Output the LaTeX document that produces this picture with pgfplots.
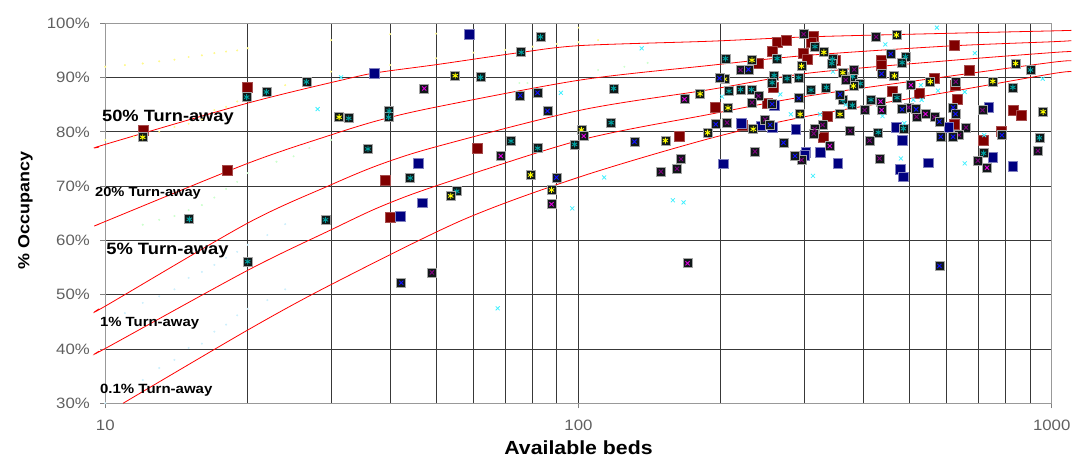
\documentclass[border=0pt]{standalone}
\usepackage{fontspec}
\setmainfont[FakeStretch=1.12]{Liberation Sans}
\usepackage{pgfplots}
\pgfplotsset{compat=1.18}
\usepackage{pgfplotstable}

\definecolor{dred}{HTML}{800000}
\definecolor{navyc}{HTML}{000080}
\definecolor{tealc}{HTML}{00A0A0}
\definecolor{yelc}{HTML}{FFFF00}
\definecolor{magc}{HTML}{E000E0}
\definecolor{dpurc}{HTML}{800080}
\definecolor{bluec}{HTML}{1010FF}
\definecolor{cyanc}{HTML}{40F0FF}
\definecolor{boxc}{HTML}{101818}
\definecolor{tickc}{HTML}{606060}
\definecolor{gridc}{HTML}{383838}

\pgfplotstableread{
x y
12.03 80.35
20 88.2
18.06 72.85
61.1 77.0
39.0 71.0
40.0 64.27
163 79.25
314 97.7
262.8 96.6
275 96.8
310 96.6
256.6 94.9
621 95.9
299 94.5
239.5 92.6
304 93.4
349 93.2
437 93.2
437 92.3
670 91.3
258 88.2
566 89.9
624 88.5
459.6 87.4
526 87.2
631 86.06
195 84.5
250 85.27
831 84.0
863 83.0
336 82.8
222 81.27
328.6 79.1
621 81.4
782 80.2
718 78.5
}\tDR

\pgfplotstableread{
x y
58.7 98.0
37.0 90.8
45.9 74.2
46.7 66.9
42.0 64.5
259 84.9
221 81.6
256.5 80.8
243 81.1
288 80.5
469 80.8
483 78.4
606 80.85
737 84.5
751 75.3
828 73.7
548 74.3
479 73.1
486 71.75
353 74.2
324 76.24
302 76.2
301 75.7
202 74.1
}\tNV

\pgfplotstableread{
x y
19.9 86.4
21.9 87.35
26.6 89.2
32.7 82.5
15.05 63.9
29.2 63.8
20 56.1
83.1 97.5
75.7 94.65
62.1 90.05
118.6 88.0
39.8 83.85
39.7 82.7
117.2 81.7
98.1 77.7
35.9 76.85
72.0 78.3
82.0 76.98
44.1 71.5
55.3 69.06
316 95.7
204.5 93.5
262.8 93.5
344 93.4
343 92.6
491 93.85
483 92.75
902 91.4
259 90.4
256.5 89.06
275.9 89.8
292 90.0
379.5 90.2
394 88.9
828 88.2
208 87.5
220 87.8
232 87.8
310 87.7
334 88.2
362 85.9
415 85.9
471 86.3
379 84.9
430 79.9
486 80.6
942 78.9
718 76.06
}\tTL

\pgfplotstableread{
x y
12 79.0
31.2 82.7
54.9 90.35
180.7 87.0
101.4 80.35
187.5 79.85
152.6 78.4
79.2 72.06
53.7 68.2
87.7 69.3
469.6 97.85
330 94.65
232.6 93.2
296 92.1
839 92.6
203.5 89.7
362 90.9
381 88.45
465 90.3
554 89.25
751 89.3
207 84.4
294 83.24
357 83.24
959 83.7
234 80.5
}\tYL

\pgfplotstableread{
x y
47.2 88.0
167.5 86.0
102.6 79.25
68.5 75.56
87.7 66.67
170 55.8
504 88.6
434.6 85.6
437 84.0
541 83.3
339.7 77.4
730 73.4
}\tMG

\pgfplotstableread{
x y
49.0 54.1
164.7 75.0
149.3 72.67
161.5 73.2
299 98.0
425.6 97.5
220 91.4
382.7 91.5
367 89.56
627 89.25
240 86.6
232.6 85.4
402.5 84.0
498.6 84.5
518 82.8
565 82.7
206 81.7
248 82.3
328 81.27
315.6 80.5
314 79.7
375 80.2
412 78.4
659 80.8
637 79.4
935 76.5
698 74.7
432.6 75.1
296 74.8
236 76.4
714 84.0
}\tDP

\pgfplotstableread{
x y
75.3 86.7
81.9 87.2
86.0 83.85
131.3 78.2
89.8 71.6
42.2 52.2
579 55.3
457 94.35
228.6 91.5
198.6 89.9
437 90.7
292 86.2
357 86.9
256.6 85.1
483 84.16
517 84.16
579 81.9
619 84.5
626 83.3
195 81.4
254 81.27
583 79.1
619 79.1
785 79.4
286.8 75.56
271 78.0
}\tBX

\pgfplotstableread{
x y
28.1 84.2
31.5 90.05
91.8 87.2
113.3 71.6
97.0 65.9
158.3 67.4
166.7 67.0
136 95.4
67.5 47.5
572 99.2
445 96.1
688 94.5
529 88.6
957 89.8
201 86.5
267 86.9
575 87.6
655 87.35
510 85.9
531 85.9
281 83.24
324 83.24
655 74.2
480 75.1
313 71.9
345 91.1
367 85.0
439 82.9
488 81.6
720 79.4
}\tCX

\begin{document}
\begin{tikzpicture}
\begin{axis}[
  name=ax,
  scale only axis,
  width=946.4pt, height=380pt,
  xmode=log, log basis x=10,
  xmin=10, xmax=1000, ymin=30, ymax=100,
  clip=false,
  xtick={10,100,1000},
  xticklabels={10,100,1000},
  minor xtick={20,30,40,50,60,70,80,90,200,300,400,500,600,700,800,900},
  ytick={30,40,50,60,70,80,90,100},
  yticklabel={\pgfmathprintnumber{\tick}\%},
  /pgf/number format/assume math mode=true,
  xmajorgrids, xminorgrids, ymajorgrids,
  major grid style={gridc, line width=0.9pt},
  minor grid style={gridc, line width=0.9pt},
  minor tick length=0pt,
  major tick length=5pt,
  tick align=outside,
  tick style={gray, line width=0.8pt},
  xtick pos=bottom, ytick pos=left,
  axis line style={gray!80, line width=0.9pt},
  ticklabel style={font=\fontsize{15}{16}\selectfont, text=tickc},
  yticklabel style={xshift=-7pt},
  xticklabel style={yshift=-8pt},
  xlabel={Available beds},
  ylabel={\% Occupancy},
  xlabel style={font=\fontsize{19}{20}\selectfont\bfseries, at={(axis description cs:0.5,-0.118)}, anchor=center},
  ylabel style={font=\fontsize{16}{17}\selectfont\bfseries, at={(axis description cs:-0.0845,0.507)}, anchor=center},
]
% faint dotted series
\addplot[only marks, mark=*, mark size=0.8pt, color=yellow!45] coordinates {(10,92.0)(11,92.3)(12,92.6)(13,93.0)(14,93.3)(15,93.8)(16,94.1)(17,94.5)(18,94.8)(19,95.0)(20,95.4)(30,96.9)(40,98.0)(50,98.1)(100,99.2)};
\addplot[only marks, mark=*, mark size=0.8pt, color=yellow!45] coordinates {(10,78.5)(11.5,79.1)(13,80.0)(14,80.9)(15,81.5)(16,82.3)(17,84.0)(18,84.6)(19,85.6)(20,87.0)(24,88.6)(30,91.1)(40,92.3)(50,93.55)(60,94.6)(70,95.1)(80,95.7)(90,96.2)(100,96.5)(110,96.9)};
\addplot[only marks, mark=*, mark size=0.8pt, color=green!20] coordinates {(12,62.9)(13,63.8)(14,64.5)(15,65.6)(16,66.5)(17,67.9)(18,69.5)(19,70.8)(20,72.4)(23,74.5)(25,75.5)(27,77.0)(30,78.5)(75,89.0)(78,89.0)(110,91.4)(125,92.0)(140,92.7)};
\addplot[only marks, mark=*, mark size=0.8pt, color=cyan!20] coordinates {(10,30)(12,34.3)(13,36.5)(14,38.0)(15,40.2)(16,41.0)(17,43.2)(18,44.5)(19,46.2)(20,47.4)(22,49.0)(24,51.0)};
\addplot[only marks, mark=*, mark size=0.8pt, color=cyan!20] coordinates {(11,46.6)(12,48.5)(13,49.7)(14,51.0)(15,53.1)(16,54.2)(17,55.5)(18,56.8)(19,57.9)(20,59.2)(22,61.0)(24,63.0)};
% turn-away curves
\addplot[red, line width=0.8pt, smooth] coordinates {(9.7,77.2)(10,77.7)(20,85.3)(32.9,89.9)(38.1,91.0)(50.2,92.4)(75,94.6)(101,95.9)(189.7,96.7)(305,97.5)(601,98.15)(1000,98.6)(1100,98.7)};
\addplot[red, line width=0.8pt, smooth] coordinates {(9.7,63.0)(10,63.5)(20,74.2)(29.9,79.4)(38.1,82.2)(50.2,84.6)(101,89.56)(189.7,92.25)(305,94.1)(601,95.8)(1000,96.6)(1100,96.8)};
\addplot[red, line width=0.8pt, smooth] coordinates {(9.7,47.4)(10,47.9)(20,63.2)(29.9,70.2)(38.1,74.0)(50.2,77.3)(101,84.0)(189.7,87.8)(305,90.8)(601,93.1)(1000,94.6)(1100,94.8)};
\addplot[red, line width=0.8pt, smooth] coordinates {(9.7,39.6)(10,40.1)(20,54.5)(29.9,61.9)(38.1,66.2)(50.2,70.1)(101,78.5)(189.7,83.25)(305,86.6)(601,90.2)(1000,92.8)(1100,93.1)};
\addplot[red, line width=0.8pt, smooth] coordinates {(10.9,30)(20,43.5)(29.9,51.8)(57,63.8)(101,71.75)(189.7,78.8)(305,82.9)(601,87.3)(1000,90.7)(1100,91.1)};
% data series
\addplot[only marks, mark=square*, mark size=5pt, mark options={fill=dred, draw=dred!70!white, line width=0.5pt}] table {\tDR};
\addplot[only marks, mark=square*, mark size=4.8pt, mark options={fill=navyc, draw=navyc!50!white, line width=0.6pt}] table {\tNV};
\addplot[only marks, mark=square*, mark size=4.5pt, mark options={fill=boxc, draw=gray!70, line width=0.7pt}] table {\tTL};
\addplot[only marks, mark=asterisk, mark size=3pt, mark options={draw=tealc, line width=0.9pt}] table {\tTL};
\addplot[only marks, mark=square*, mark size=4.5pt, mark options={fill=boxc, draw=gray!70, line width=0.7pt}] table {\tYL};
\addplot[only marks, mark=asterisk, mark size=3pt, mark options={draw=yelc, line width=0.9pt}] table {\tYL};
\addplot[only marks, mark=square*, mark size=4.5pt, mark options={fill=boxc, draw=gray!70, line width=0.7pt}] table {\tMG};
\addplot[only marks, mark=x, mark size=3pt, mark options={draw=magc, line width=0.9pt}] table {\tMG};
\addplot[only marks, mark=square*, mark size=4.5pt, mark options={fill=boxc, draw=gray!70, line width=0.7pt}] table {\tDP};
\addplot[only marks, mark=x, mark size=3pt, mark options={draw=dpurc, line width=0.9pt}] table {\tDP};
\addplot[only marks, mark=square*, mark size=4.5pt, mark options={fill=boxc, draw=gray!70, line width=0.7pt}] table {\tBX};
\addplot[only marks, mark=x, mark size=3pt, mark options={draw=bluec, line width=0.9pt}] table {\tBX};
\addplot[only marks, mark=x, mark size=2.8pt, mark options={draw=cyanc, line width=0.8pt}] table {\tCX};
% annotations
\node[anchor=west, inner sep=0pt, font=\fontsize{16.3}{17}\selectfont\bfseries] at (axis cs:9.84,82.74) {50\% Turn-away};
\node[anchor=west, inner sep=0pt, font=\fontsize{13.1}{14}\selectfont\bfseries] at (axis cs:9.51,68.75) {20\% Turn-away};
\node[anchor=west, inner sep=0pt, font=\fontsize{16.4}{17}\selectfont\bfseries] at (axis cs:10.04,58.06) {5\% Turn-away};
\node[anchor=west, inner sep=0pt, font=\fontsize{13.3}{14}\selectfont\bfseries] at (axis cs:9.74,44.8) {1\% Turn-away};
\node[anchor=west, inner sep=0pt, font=\fontsize{13.4}{14}\selectfont\bfseries] at (axis cs:9.74,32.5) {0.1\% Turn-away};
\end{axis}
\pgfresetboundingbox
\path (ax.south west) ++(-105.3pt,-54.7pt) rectangle ++(1073pt,458pt);
\end{tikzpicture}
\end{document}
